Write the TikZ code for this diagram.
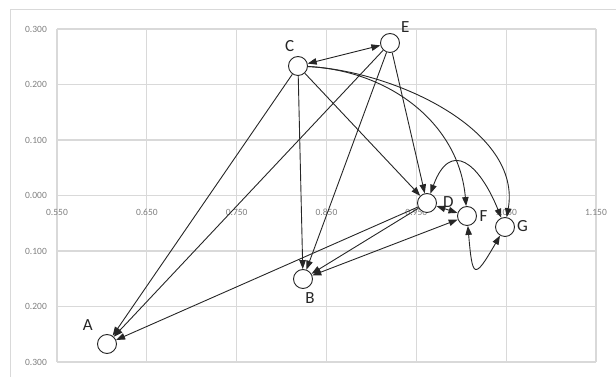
\documentclass[tikz,border=0pt]{standalone}
\usepackage{fontspec}
\setmainfont{Carlito}
\usetikzlibrary{arrows.meta}
\definecolor{GridGray}{HTML}{D9D9D9}
\definecolor{TickGray}{HTML}{7F7F7F}
\definecolor{EdgeBlack}{HTML}{262626}

\begin{document}
\begin{tikzpicture}[x=1pt,y=1pt,
vtx/.style={circle,draw=EdgeBlack,fill=white,line width=0.9pt,minimum size=19pt,inner sep=0pt},
lbl/.style={font=\fontsize{17}{20}\selectfont,text=EdgeBlack,inner sep=0pt,anchor=center},
ticklbl/.style={font=\fontsize{9.5}{11}\selectfont,text=TickGray,inner sep=0pt},
gridln/.style={draw=GridGray,line width=1.2pt},
arr/.style={draw=EdgeBlack,line width=0.9pt,-{Triangle[length=9pt,width=6.5pt]}},
darr/.style={draw=EdgeBlack,line width=0.9pt,{Triangle[length=9pt,width=6.5pt]}-{Triangle[length=9pt,width=6.5pt]}}]
\useasboundingbox (0,0) rectangle (616,377);
\draw[GridGray,line width=1pt] (616,367) -- (10,367) -- (10,0);
% plot grid
\foreach \t [count=\i from 0] in {0.550,0.650,0.750,0.850,0.950,1.050,1.150} {
  \draw[gridln] ({57+89.83*\i},15) -- ({57+89.83*\i},348);
  \node[ticklbl] at ({57+89.83*\i},165) {\t};
}
\foreach \t [count=\j from 0] in {0.300,0.200,0.100,0.000,0.100,0.200,0.300} {
  \draw[gridln] (57,{15+55.5*\j}) -- (596,{15+55.5*\j});
  \node[ticklbl] at (36,{15+55.5*\j}) {\t};
}
% vertices
\node[vtx,label={[lbl,label distance=12pt]112:C}] (C) at (298,311) {};
\node[vtx,label={[lbl,label distance=12.4pt]47:E}] (E) at (390,334) {};
\node[vtx,label={[lbl,label distance=11.5pt]3:D}] (D) at (427,174) {};
\node[vtx,label={[lbl,label distance=6.5pt]0:F}] (F) at (467,161) {};
\node[vtx,label={[lbl,label distance=7.5pt]3:G}] (G) at (505,150) {};
\node[vtx,label={[lbl,label distance=10.7pt]-70:B}] (B) at (303,98) {};
\node[vtx,label={[lbl,label distance=16.7pt]136:A}] (A) at (107,33) {};
% edges
\draw[darr] (C) -- (E);
\draw[arr] (C) -- (A);
\draw[arr] (E) -- (A);
\draw[arr] (D) -- (A);
\draw[arr] (C) -- (B);
\draw[arr] (E) -- (B);
\draw[arr] (D) -- (B);
\draw[darr] (B) -- (F);
\draw[arr] (C) -- (D);
\draw[arr] (E) -- (D);
\draw[darr] (D) -- (F);
\draw[arr] (C) to[out=-3,in=95] (F);
\draw[arr] (C) to[out=-3,in=80,looseness=0.9] (G);
\draw[darr] (D) to[out=70,in=112,looseness=2] (G);
\draw[darr] (F) to[out=-85,in=-120,looseness=4] (G);
\end{tikzpicture}
\end{document}
